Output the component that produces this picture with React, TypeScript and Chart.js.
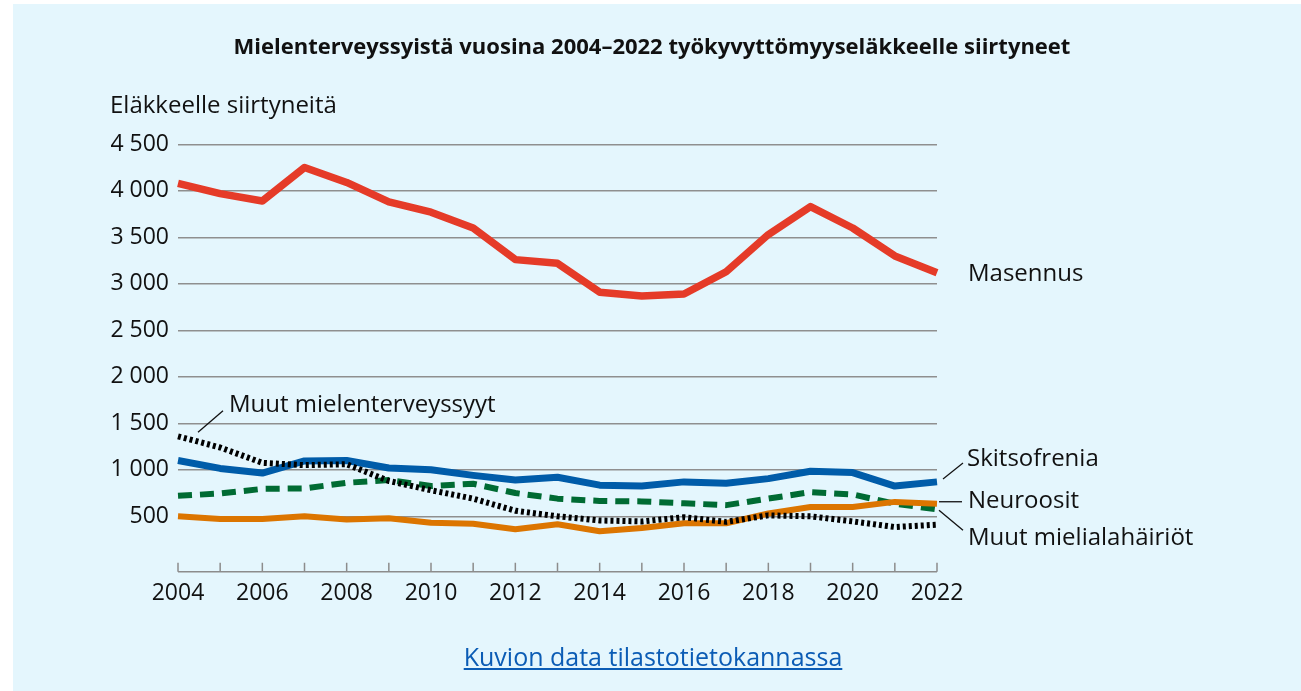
import React, { useEffect, useRef } from "react";
import { Chart, registerables } from "chart.js";

Chart.register(...registerables);

const years = ["2004","2005","2006","2007","2008","2009","2010","2011","2012","2013","2014","2015","2016","2017","2018","2019","2020","2021","2022"];
const masennus = [4080,3970,3890,4250,4090,3880,3770,3600,3260,3220,2910,2870,2890,3130,3530,3830,3600,3300,3120];
const skitsofrenia = [1100,1015,965,1095,1100,1020,1000,940,890,920,835,825,870,855,905,985,970,825,870];
const neuroosit = [500,470,470,500,465,480,430,420,360,415,340,375,425,425,530,600,600,655,635];
const muutMielialahairiot = [720,745,795,800,860,890,825,850,750,690,665,660,640,620,690,760,735,635,575];
const muutMielenterveyssyyt = [1360,1240,1075,1050,1060,880,780,690,560,500,455,445,490,440,510,500,445,385,410];
const yTicks = [0,500,1000,1500,2000,2500,3000,3500,4000,4500];

const TITLE = "Mielenterveyssyistä vuosina 2004–2022 työkyvyttömyyseläkkeelle siirtyneet";
const Y_TITLE = "Eläkkeelle siirtyneitä";
const LINK = "Kuvion data tilastotietokannassa";

const FONT = "'Open Sans', 'Noto Sans', sans-serif";
const W = 1288;
const H = 687;

const fmt = (v: number) => (v === 0 ? "" : v >= 1000 ? `${Math.floor(v / 1000)} ${String(v % 1000).padStart(3, "0")}` : String(v));

export default function App() {
  const ref = useRef<HTMLCanvasElement | null>(null);
  useEffect(() => {
    if (!ref.current) return;
    const axisTicks = {
      id: "axisTicks",
      afterDatasetsDraw(chart: any) {
        const { ctx, scales } = chart;
        const x = scales.x;
        const y = scales.y;
        const base = y.getPixelForValue(0);
        ctx.save();
        ctx.strokeStyle = "#8c8c8c";
        ctx.lineWidth = 1.5;
        ctx.beginPath();
        for (let i = 0; i < years.length; i++) {
          const px = x.getPixelForValue(i);
          ctx.moveTo(px, base);
          ctx.lineTo(px, base + 9);
        }
        ctx.moveTo(x.getPixelForValue(0), base + 9);
        ctx.lineTo(x.getPixelForValue(years.length - 1), base + 9);
        ctx.stroke();
        ctx.restore();
      },
    };
    const labels = {
      id: "seriesLabels",
      afterDatasetsDraw(chart: any) {
        const { ctx, scales } = chart;
        const x = scales.x;
        const y = scales.y;
        const last = years.length - 1;
        const xr = x.getPixelForValue(last);
        const x0 = x.getPixelForValue(0);
        ctx.save();
        ctx.fillStyle = "#111";
        ctx.strokeStyle = "#111";
        ctx.lineWidth = 1.3;
        ctx.font = `24px ${FONT}`;
        ctx.textBaseline = "alphabetic";
        ctx.textAlign = "left";
        const lx = xr + 31;
        ctx.fillText("Masennus", lx, y.getPixelForValue(masennus[last]) + 8);
        // Skitsofrenia
        const ys = y.getPixelForValue(skitsofrenia[last]);
        ctx.beginPath();
        ctx.moveTo(xr + 6, ys - 3);
        ctx.lineTo(xr + 26, ys - 19);
        ctx.stroke();
        ctx.fillText("Skitsofrenia", lx - 1, ys - 16);
        // Neuroosit
        const yn = y.getPixelForValue(neuroosit[last]);
        ctx.beginPath();
        ctx.moveTo(xr + 2, yn - 2);
        ctx.lineTo(xr + 25, yn - 2);
        ctx.stroke();
        ctx.fillText("Neuroosit", lx, yn + 4);
        // Muut mielialahäiriöt
        const ym = y.getPixelForValue(muutMielialahairiot[last]);
        ctx.beginPath();
        ctx.moveTo(xr + 2, ym + 1);
        ctx.lineTo(xr + 26, ym + 21);
        ctx.stroke();
        ctx.fillText("Muut mielialahäiriöt", lx, ym + 36);
        // Muut mielenterveyssyyt
        const yo = y.getPixelForValue(muutMielenterveyssyyt[0]);
        ctx.beginPath();
        ctx.moveTo(x0 + 20, yo - 4);
        ctx.lineTo(x0 + 45, yo - 25.6);
        ctx.stroke();
        ctx.fillText("Muut mielenterveyssyyt", x0 + 51, yo - 24.6);
        ctx.restore();
      },
    };
    const chart = new Chart(ref.current, {
      type: "line",
      data: {
        labels: years,
        datasets: [
          { label: "Masennus", data: masennus, borderColor: "#e53b28", borderWidth: 7.5 },
          { label: "Muut mielenterveyssyyt", data: muutMielenterveyssyyt, borderColor: "#000000", borderWidth: 6, borderDash: [3, 3] },
          { label: "Neuroosit", data: neuroosit, borderColor: "#dc7500", borderWidth: 6 },
          { label: "Muut mielialahäiriöt", data: muutMielialahairiot, borderColor: "#006b33", borderWidth: 6, borderDash: [14, 8] },
          { label: "Skitsofrenia", data: skitsofrenia, borderColor: "#005ca9", borderWidth: 7 },
        ].map((d) => ({ ...d, pointRadius: 0, tension: 0, fill: false, borderJoinStyle: "round" as const })),
      },
      options: {
        responsive: false,
        animation: false,
        events: [],
        layout: { padding: { left: 0, right: 364, top: 140.3, bottom: 78.2 } },
        plugins: { legend: { display: false }, tooltip: { enabled: false }, title: { display: false } },
        scales: {
          x: {
            type: "category",
            offset: false,
            grid: { display: false, drawTicks: false },
            border: { display: false },
            ticks: {
              autoSkip: false,
              maxRotation: 0,
              padding: 17,
              color: "#111",
              font: { family: FONT, size: 23 },
              callback: (_v: any, i: number) => (i % 2 === 0 ? years[i] : ""),
            },
            afterFit: (s: any) => { s.height = 50; },
          },
          y: {
            min: 0,
            max: 4500,
            afterBuildTicks: (s: any) => { s.ticks = yTicks.map((v) => ({ value: v })); },
            grid: {
              drawTicks: false,
              lineWidth: 1.5,
              color: (c: any) => (c.tick && c.tick.value === 0 ? "rgba(0,0,0,0)" : "#8f8f8f"),
            },
            border: { display: false },
            ticks: {
              padding: 9,
              color: "#111",
              font: { family: FONT, size: 23 },
              callback: (v: any) => fmt(Number(v)),
            },
            afterFit: (s: any) => { s.width = 165; },
          },
        },
      },
      plugins: [axisTicks, labels],
    });
    return () => chart.destroy();
  }, []);

  return (
    <div style={{ position: "absolute", left: 0, top: 0, width: 1301, height: 691, background: "#fff", overflow: "hidden" }}>
      <div style={{ position: "absolute", left: 13, top: 4, width: W, height: H, background: "#e4f6fd" }}>
        <canvas ref={ref} width={W} height={H} style={{ position: "absolute", left: 0, top: 0, width: W, height: H }} />
        <div style={{ position: "absolute", left: 639, top: 41, transform: "translate(-50%, -50%)", whiteSpace: "nowrap", fontFamily: FONT, fontWeight: 700, fontSize: 22, color: "#111" }}>{TITLE}</div>
        <div style={{ position: "absolute", left: 97, top: 99, transform: "translateY(-50%)", whiteSpace: "nowrap", fontFamily: FONT, fontSize: 24, color: "#111" }}>{Y_TITLE}</div>
        <a href="#" style={{ position: "absolute", left: 640, top: 652, transform: "translate(-50%, -50%)", whiteSpace: "nowrap", fontFamily: FONT, fontSize: 25, color: "#0b5cb5", textDecoration: "underline" }}>{LINK}</a>
      </div>
    </div>
  );
}
